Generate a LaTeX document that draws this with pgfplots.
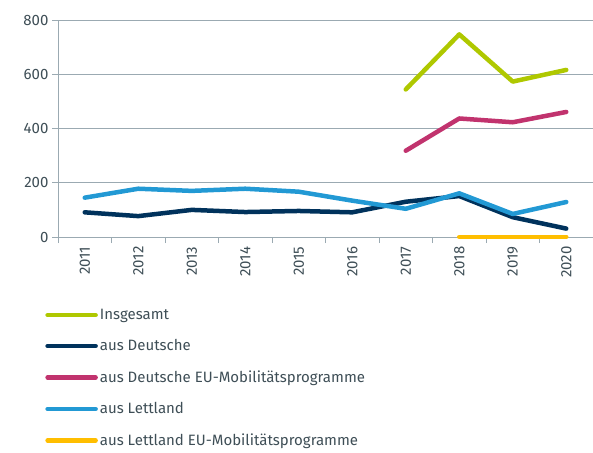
\documentclass[border=0pt]{standalone}
\usepackage{pgfplots}
\pgfplotsset{compat=1.18}
\usepackage{fontspec}
\setmainfont{Fira Sans}
\definecolor{cgreen}{HTML}{AFC800}
\definecolor{cnavy}{HTML}{00325C}
\definecolor{cpink}{HTML}{C1336E}
\definecolor{cblue}{HTML}{2299D4}
\definecolor{cyellow}{HTML}{FFBE00}
\definecolor{ctext}{HTML}{3E4E56}
\definecolor{cgrid}{HTML}{9BAAB2}
\begin{document}
\begin{tikzpicture}
\useasboundingbox (0,0) rectangle (593pt,452pt);
\begin{axis}[
  at={(58pt,215pt)}, anchor=south west,
  width=535pt, height=217pt, scale only axis,
  xmin=-0.5, xmax=9.5, ymin=0, ymax=800,
  clip=false,
  xtick={0,...,9},
  xticklabels={2011,2012,2013,2014,2015,2016,2017,2018,2019,2020},
  minor xtick={-0.5,0.5,...,9.5},
  ytick={0,200,400,600,800},
  axis x line*=bottom, axis y line*=left,
  axis line style={draw=cgrid, line width=0.8pt},
  ymajorgrids, major grid style={draw=cgrid, line width=0.8pt},
  tick align=outside,
  major tick length=6pt, minor tick length=6pt,
  major x tick style={draw=none},
  minor x tick style={draw=cgrid, line width=0.8pt},
  major y tick style={draw=cgrid, line width=0.8pt},
  tick label style={font=\fontsize{15}{18}\selectfont, text=ctext},
  x tick label style={rotate=90, anchor=east, xshift=0pt},
  /pgf/number format/assume math mode=true,
  every axis plot/.append style={line width=4.5pt, line cap=round, line join=round},
  legend style={at={(-0.024,-0.323)}, anchor=north west, draw=none, fill=none,
    font=\fontsize{15}{18}\selectfont, text=ctext, row sep=14.5pt,
    inner xsep=0pt, inner ysep=0pt},
  legend cell align=left,
  legend image code/.code={\draw[#1, line width=4.5pt, line cap=round] (0pt,0pt) -- (48pt,0pt);},
]
\addplot[cgreen] coordinates {(6,544) (7,747) (8,573) (9,616)};
\addlegendentry{Insgesamt}
\addplot[cnavy] coordinates {(0,91) (1,77) (2,100) (3,92) (4,96) (5,91) (6,130) (7,151) (8,73) (9,31)};
\addlegendentry{aus Deutsche}
\addplot[cpink] coordinates {(6,318) (7,437) (8,423) (9,461)};
\addlegendentry{aus Deutsche EU-Mobilitätsprogramme}
\addplot[cblue] coordinates {(0,145) (1,178) (2,170) (3,178) (4,167) (5,134) (6,104) (7,161) (8,85) (9,129)};
\addlegendentry{aus Lettland}
\addplot[cyellow] coordinates {(7,0) (8,0) (9,0)};
\addlegendentry{aus Lettland EU-Mobilitätsprogramme}
\end{axis}
\end{tikzpicture}
\end{document}
